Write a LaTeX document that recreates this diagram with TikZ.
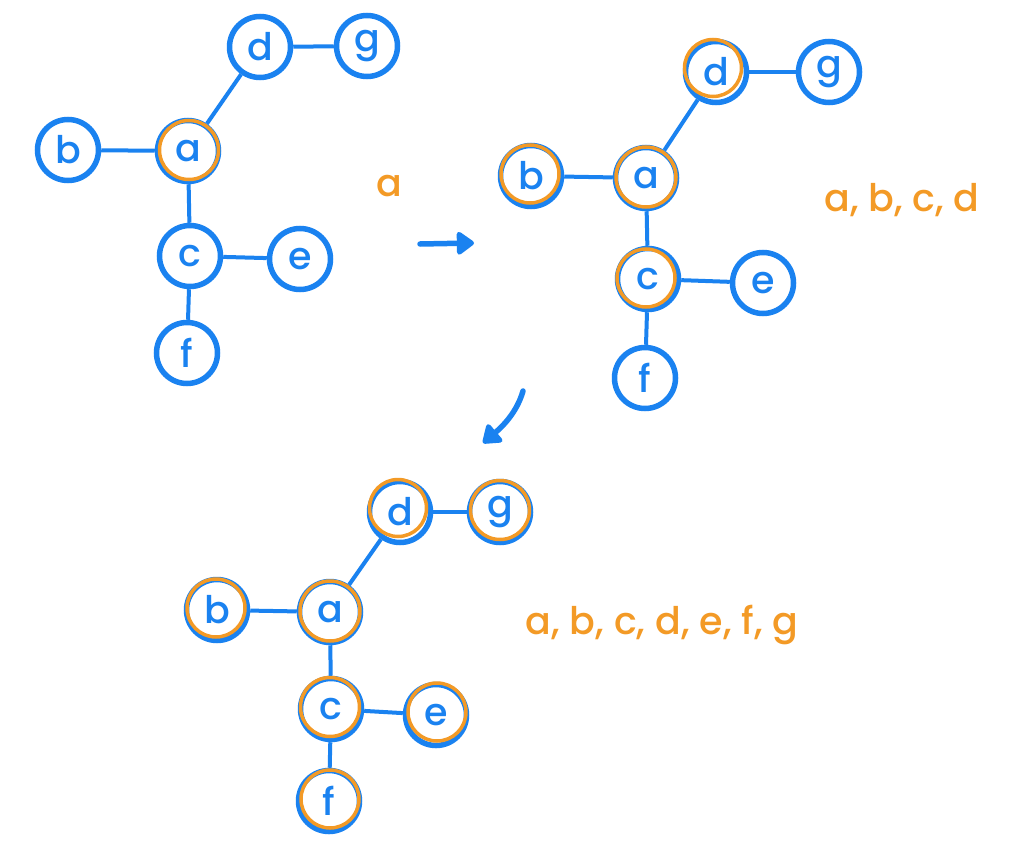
\documentclass[tikz,border=0pt]{standalone}
\usepackage{fontspec}
\setmainfont{Poppins}
\newfontfamily\hand{Poppins Medium}
\usetikzlibrary{arrows.meta,calc}
\definecolor{bl}{HTML}{1A82F0}
\definecolor{orng}{HTML}{F39A26}
\begin{document}
\begin{tikzpicture}[x=1pt,y=-1pt,
  vtx/.style={circle,draw=bl,line width=5.5pt,minimum size=61pt,inner sep=0pt,text=bl,font=\hand\fontsize{38}{40}\selectfont},
  edge/.style={draw=bl,line width=4pt},
  ring/.style={draw=orng,line width=3.5pt},
  lbl/.style={text=orng,font=\hand\fontsize{38}{40}\selectfont},
  flow/.style={draw=bl,line width=5.5pt,line cap=round,-{Triangle[length=19pt,width=26pt,round]}}]
\useasboundingbox (0,0) rectangle (1024,845);

% ---------- graph 1 ----------
\node[vtx] (a1) at (188,151) {a};
\node[vtx] (b1) at (68,150) {b};
\node[vtx] (c1) at (190,256) {c};
\node[vtx] (d1) at (260,47) {d};
\node[vtx] (e1) at (300,259) {e};
\node[vtx] (f1) at (187,353) {f};
\node[vtx] (g1) at (367,46) {g};
\draw[edge] (b1) -- (a1);
\draw[edge] (a1) -- (d1);
\draw[edge] (d1) -- (g1);
\draw[edge] (a1) -- (c1);
\draw[edge] (c1) -- (e1);
\draw[edge] (c1) -- (f1);
\draw[ring] ($(a1)+(1,-1)$) circle (29.5);

\node[lbl] (v1) at (389,186) {a};
\coordinate (ar1s) at (420,244);
\coordinate (ar1e) at (474,243);
\draw[flow] (ar1s) -- (ar1e);

% ---------- graph 2 ----------
\node[vtx] (a2) at (646,178) {a};
\node[vtx] (b2) at (531,176) {b};
\node[vtx] (c2) at (648,279) {c};
\node[vtx] (d2) at (716,72) {d};
\node[vtx] (e2) at (763,283) {e};
\node[vtx] (f2) at (645,378) {f};
\node[vtx] (g2) at (829,72) {g};
\draw[edge] (b2) -- (a2);
\draw[edge] (a2) -- (d2);
\draw[edge] (d2) -- (g2);
\draw[edge] (a2) -- (c2);
\draw[edge] (c2) -- (e2);
\draw[edge] (c2) -- (f2);
\draw[ring] ($(a2)+(0,-1)$) circle (30);
\draw[ring] ($(b2)+(-1,-2)$) circle (29);
\draw[ring] ($(c2)+(-2,-1)$) circle (29);
\draw[ring] ($(d2)+(-3,-4)$) circle (28.5);

\node[lbl] (v2) at (902,200) {a, b, c, d};
\coordinate (ar2s) at (523,391);
\coordinate (ar2e) at (483,443);
\draw[flow] (ar2s) .. controls (517,412) and (503,426) .. (ar2e);

% ---------- graph 3 ----------
\node[vtx] (a3) at (330,612) {a};
\node[vtx] (b3) at (217,610) {b};
\node[vtx] (c3) at (331,709) {c};
\node[vtx] (d3) at (400,512) {d};
\node[vtx] (e3) at (436,715) {e};
\node[vtx] (f3) at (329,801) {f};
\node[vtx] (g3) at (500,512) {g};
\draw[edge] (b3) -- (a3);
\draw[edge] (a3) -- (d3);
\draw[edge] (d3) -- (g3);
\draw[edge] (a3) -- (c3);
\draw[edge] (c3) -- (e3);
\draw[edge] (c3) -- (f3);
\draw[ring] ($(a3)+(0,-1)$) circle (30);
\draw[ring] ($(b3)+(-1,-2)$) circle (29);
\draw[ring] ($(c3)+(-1,-2)$) circle (29.5);
\draw[ring] ($(d3)+(-2,-4)$) circle (28.5);
\draw[ring] ($(e3)+(1,-3)$) circle (29);
\draw[ring] ($(f3)+(1,-2)$) circle (29);
\draw[ring] ($(g3)+(0,-2)$) circle (29.5);

\node[lbl] (v3) at (662,625) {a, b, c, d, e, f, g};
\end{tikzpicture}
\end{document}
